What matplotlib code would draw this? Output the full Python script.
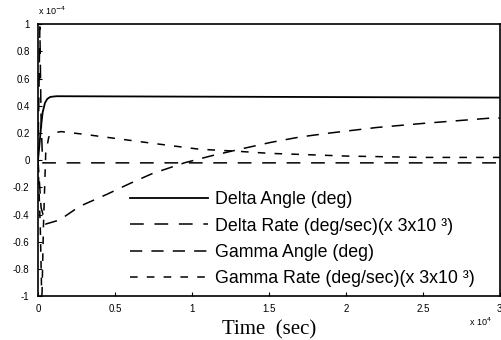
import matplotlib
matplotlib.use('Agg')
import matplotlib.pyplot as plt

# values (y in units of 1e-4, time in units of 1e4)
t_delta_angle = [0, 0.01, 0.02, 0.03, 0.045, 0.06, 0.08, 0.12, 3.0]
delta_angle = [0, 0.12, 0.25, 0.35, 0.42, 0.45, 0.465, 0.47, 0.46]

t_delta_rate = [0, 0.012, 0.02, 0.03, 0.1, 3.0]
delta_rate = [0, 0.98, 0.3, -0.02, -0.02, -0.02]

t_gamma_angle = [0, 0.02, 0.05, 0.14, 0.27, 0.45, 0.6, 0.74, 0.95, 1.12,
                 1.31, 1.51, 1.70, 1.90, 2.2, 2.5, 2.95, 3.0]
gamma_angle = [0, -0.35, -0.47, -0.44, -0.34, -0.25, -0.17, -0.10, -0.02, 0.03,
               0.08, 0.13, 0.17, 0.20, 0.24, 0.27, 0.31, 0.31]

t_gamma_rate = [0, 0.015, 0.025, 0.035, 0.05, 0.07, 0.1, 0.15, 0.3, 0.5,
                0.77, 1.05, 1.3, 1.5, 1.83, 2.0, 2.5, 3.0]
gamma_rate = [0, -0.5, -1.05, -0.5, 0.05, 0.17, 0.2, 0.21, 0.19, 0.16,
              0.12, 0.08, 0.065, 0.05, 0.037, 0.03, 0.02, 0.02]

labels = ['Delta Angle (deg)',
          'Delta Rate (deg/sec)(x 3x10 ³)',
          'Gamma Angle (deg)',
          'Gamma Rate (deg/sec)(x 3x10 ³)']

xticks = [0, 0.5, 1, 1.5, 2, 2.5, 3]
xticklabels = ['0', '0.5', '1', '1.5', '2', '2.5', '3']
yticks = [-1, -0.8, -0.6, -0.4, -0.2, 0, 0.2, 0.4, 0.6, 0.8, 1]
yticklabels = ['-1', '-0.8', '-0.6', '-0.4', '-0.2', '0', '0.2', '0.4', '0.6', '0.8', '1']

plt.rcParams['font.family'] = ['Liberation Sans', 'DejaVu Sans']

fig = plt.figure(figsize=(5.02, 3.40), dpi=100)
ax = fig.add_axes([0.0757, 0.129, 0.92, 0.80])

ax.plot(t_delta_angle, delta_angle, color='black', lw=1.3, ls='-', label=labels[0])
ax.plot(t_delta_rate, delta_rate, color='black', lw=1.1, ls=(0, (9, 7)), label=labels[1])
ax.plot(t_gamma_angle, gamma_angle, color='black', lw=1.1, ls=(0, (8, 6)), label=labels[2])
ax.plot(t_gamma_rate, gamma_rate, color='black', lw=1.1, ls=(0, (5, 6)), label=labels[3])

ax.set_xlim(0, 3)
ax.set_ylim(-1, 1)
ax.set_xticks(xticks)
ax.set_xticklabels(xticklabels)
ax.set_yticks(yticks)
ax.set_yticklabels(yticklabels)
ax.tick_params(direction='in', length=3, labelsize=7, pad=6)
for s in ax.spines.values():
    s.set_linewidth(1.2)

leg = ax.legend(loc='upper left', bbox_to_anchor=(0.199, 0.385), frameon=False,
                fontsize=12.8, handlelength=4.4, handletextpad=0.4,
                labelspacing=0.52, borderpad=0, borderaxespad=0)

ax.set_xlabel('Time  (sec)', family='Liberation Serif', fontsize=15, labelpad=4)
fig.text(0.075, 0.955, 'x 10$^{-4}$', fontsize=6.5)
fig.text(0.935, 0.04, 'x 10$^{4}$', fontsize=6.5)

fig.savefig('out.png', dpi=100)
